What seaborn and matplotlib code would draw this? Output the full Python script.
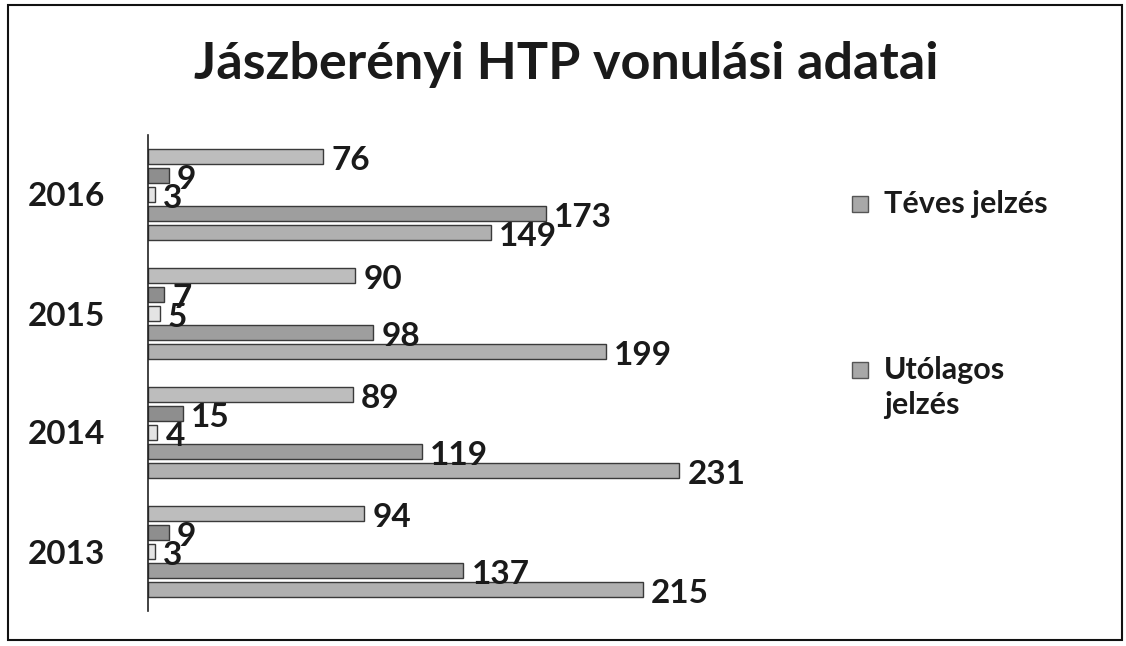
import matplotlib
matplotlib.use("Agg")
import matplotlib.pyplot as plt
import seaborn as sns
import pandas as pd
from matplotlib.patches import Rectangle

years = ["2016", "2015", "2014", "2013"]
series = ["Téves jelzés", "Utólagos jelzés", "Sorozat 3", "Sorozat 4", "Sorozat 5"]
s1 = [76, 90, 89, 94]
s2 = [9, 7, 15, 9]
s3 = [3, 5, 4, 3]
s4 = [173, 98, 119, 137]
s5 = [149, 199, 231, 215]
colors = ["#bdbdbd", "#8e8e8e", "#e4e4e4", "#9e9e9e", "#b0b0b0"]
legend_labels = ["Téves jelzés", "Utólagos\njelzés"]

rows = []
for name, vals in zip(series, [s1, s2, s3, s4, s5]):
    for y, v in zip(years, vals):
        rows.append({"year": y, "series": name, "value": v})
df = pd.DataFrame(rows)

sns.set_theme(style="white")
plt.rcParams["font.family"] = ["Lato", "DejaVu Sans"]

W, H = 1126, 646
fig = plt.figure(figsize=(W / 100, H / 100), dpi=100)
ax = fig.add_axes([148/W, 1-611/H, 690/W, 476/H])
sns.barplot(data=df, y="year", x="value", hue="series", order=years,
            hue_order=series, palette=colors, orient="h", gap=0.22,
            legend=False, ax=ax, edgecolor="#3a3a3a", linewidth=1.0,
            saturation=1)
ax.set_xlim(0, 300)
ax.set_ylim(3.5, -0.5)
ax.set_xlabel("")
ax.set_ylabel("")
ax.set_xticks([])
for s in ["top", "right", "bottom"]:
    ax.spines[s].set_visible(False)
ax.spines["left"].set_color("#222222")
ax.spines["left"].set_linewidth(1.2)
ax.tick_params(axis="y", length=0, pad=31, labelsize=24)
for t in ax.get_yticklabels():
    t.set_fontweight("bold")
    t.set_color("#1a1a1a")

for cont in ax.containers:
    for bar in cont:
        w = bar.get_width()
        yc = bar.get_y() + bar.get_height() / 2
        ax.annotate(f"{w:.0f}", xy=(w, yc), xytext=(6, -3), textcoords="offset points",
                    ha="left", va="center", fontsize=24, fontweight="bold",
                    color="#1a1a1a")

fig.text(0.503, 1 - 64/H, "Jászberényi HTP vonulási adatai", ha="center", va="center",
         fontsize=37.5, fontweight="bold", color="#1a1a1a")

# legend (two entries shown in the reference)
leg_y_top = [190, 356]
for lab, yt in zip(legend_labels, leg_y_top):
    fig.add_artist(Rectangle((852/W, 1 - (yt + 22)/H), 16/W, 16/H, transform=fig.transFigure,
                             facecolor="#a8a8a8", edgecolor="#555555", linewidth=1))
    fig.text(884/W, 1 - yt/H, lab, ha="left", va="top", fontsize=22, fontweight="bold",
             color="#1a1a1a", linespacing=1.3)

fig.add_artist(Rectangle((8/W, 1-640/H), 1114/W, 635/H, transform=fig.transFigure,
                         fill=False, edgecolor="#111111", linewidth=1.5))

fig.savefig("out.png", dpi=100)
